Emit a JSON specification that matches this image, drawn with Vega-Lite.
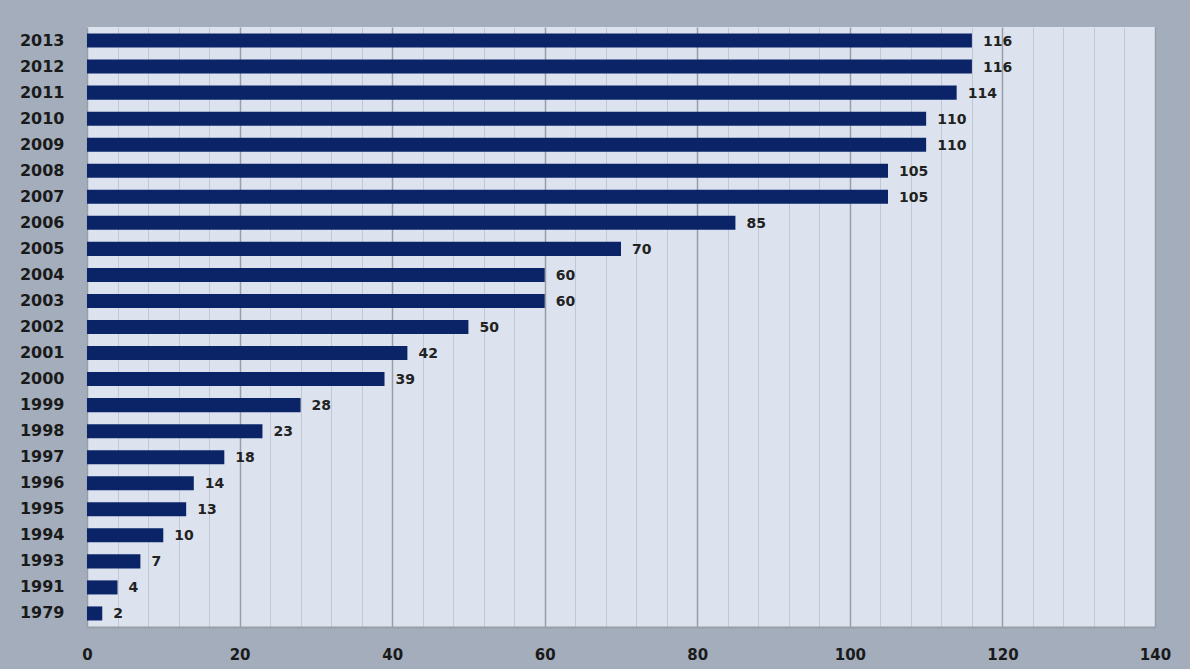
{
  "$schema": "https://vega.github.io/schema/vega-lite/v6.json",
  "autosize": {"type": "none"},
  "width": 1068,
  "height": 600,
  "padding": {"left": 87, "top": 27, "right": 35, "bottom": 42},
  "background": "#a3adbb",
  "config": {
    "view": {"fill": "#dce3ee", "stroke": null},
    "font": "DejaVu Sans"
  },
  "data": {
    "values": [
      {"year": "2013", "value": 116},
      {"year": "2012", "value": 116},
      {"year": "2011", "value": 114},
      {"year": "2010", "value": 110},
      {"year": "2009", "value": 110},
      {"year": "2008", "value": 105},
      {"year": "2007", "value": 105},
      {"year": "2006", "value": 85},
      {"year": "2005", "value": 70},
      {"year": "2004", "value": 60},
      {"year": "2003", "value": 60},
      {"year": "2002", "value": 50},
      {"year": "2001", "value": 42},
      {"year": "2000", "value": 39},
      {"year": "1999", "value": 28},
      {"year": "1998", "value": 23},
      {"year": "1997", "value": 18},
      {"year": "1996", "value": 14},
      {"year": "1995", "value": 13},
      {"year": "1994", "value": 10},
      {"year": "1993", "value": 7},
      {"year": "1991", "value": 4},
      {"year": "1979", "value": 2}
    ]
  },
  "encoding": {
    "y": {
      "field": "year",
      "type": "nominal",
      "sort": "descending",
      "scale": {"paddingInner": 0.46, "paddingOuter": 0.25},
      "axis": {
        "title": null,
        "ticks": false,
        "domain": false,
        "labelPadding": 23,
        "labelFont": "DejaVu Sans",
        "labelFontWeight": "bold",
        "labelFontSize": 16,
        "labelColor": "#1a1a1a"
      }
    },
    "x": {
      "field": "value",
      "type": "quantitative",
      "scale": {"domain": [0, 140], "nice": false},
      "axis": {
        "title": null,
        "values": [0,4,8,12,16,20,24,28,32,36,40,44,48,52,56,60,64,68,72,76,80,84,88,92,96,100,104,108,112,116,120,124,128,132,136,140],
        "grid": true,
        "gridColor": {"condition": {"test": "datum.value % 20 === 0", "value": "#979ea9"}, "value": "#c1c8d3"},
        "gridWidth": {"condition": {"test": "datum.value % 20 === 0", "value": 1.5}, "value": 1},
        "ticks": false,
        "domain": true,
        "domainColor": "#9aa0a8",
        "domainWidth": 2,
        "labelExpr": "datum.value % 20 === 0 ? datum.label : ''",
        "labelFlush": false,
        "labelPadding": 20,
        "labelFont": "DejaVu Sans",
        "labelFontWeight": "bold",
        "labelFontSize": 15,
        "labelColor": "#1a1a1a",
        "labelOverlap": false
      }
    }
  },
  "layer": [
    {"mark": {"type": "bar", "color": "#0b2468"}},
    {
      "mark": {"type": "text", "align": "left", "baseline": "middle", "dx": 11, "dy": 1, "font": "DejaVu Sans", "fontWeight": "bold", "fontSize": 14, "color": "#222222"},
      "encoding": {"text": {"field": "value", "type": "quantitative"}}
    }
  ]
}
